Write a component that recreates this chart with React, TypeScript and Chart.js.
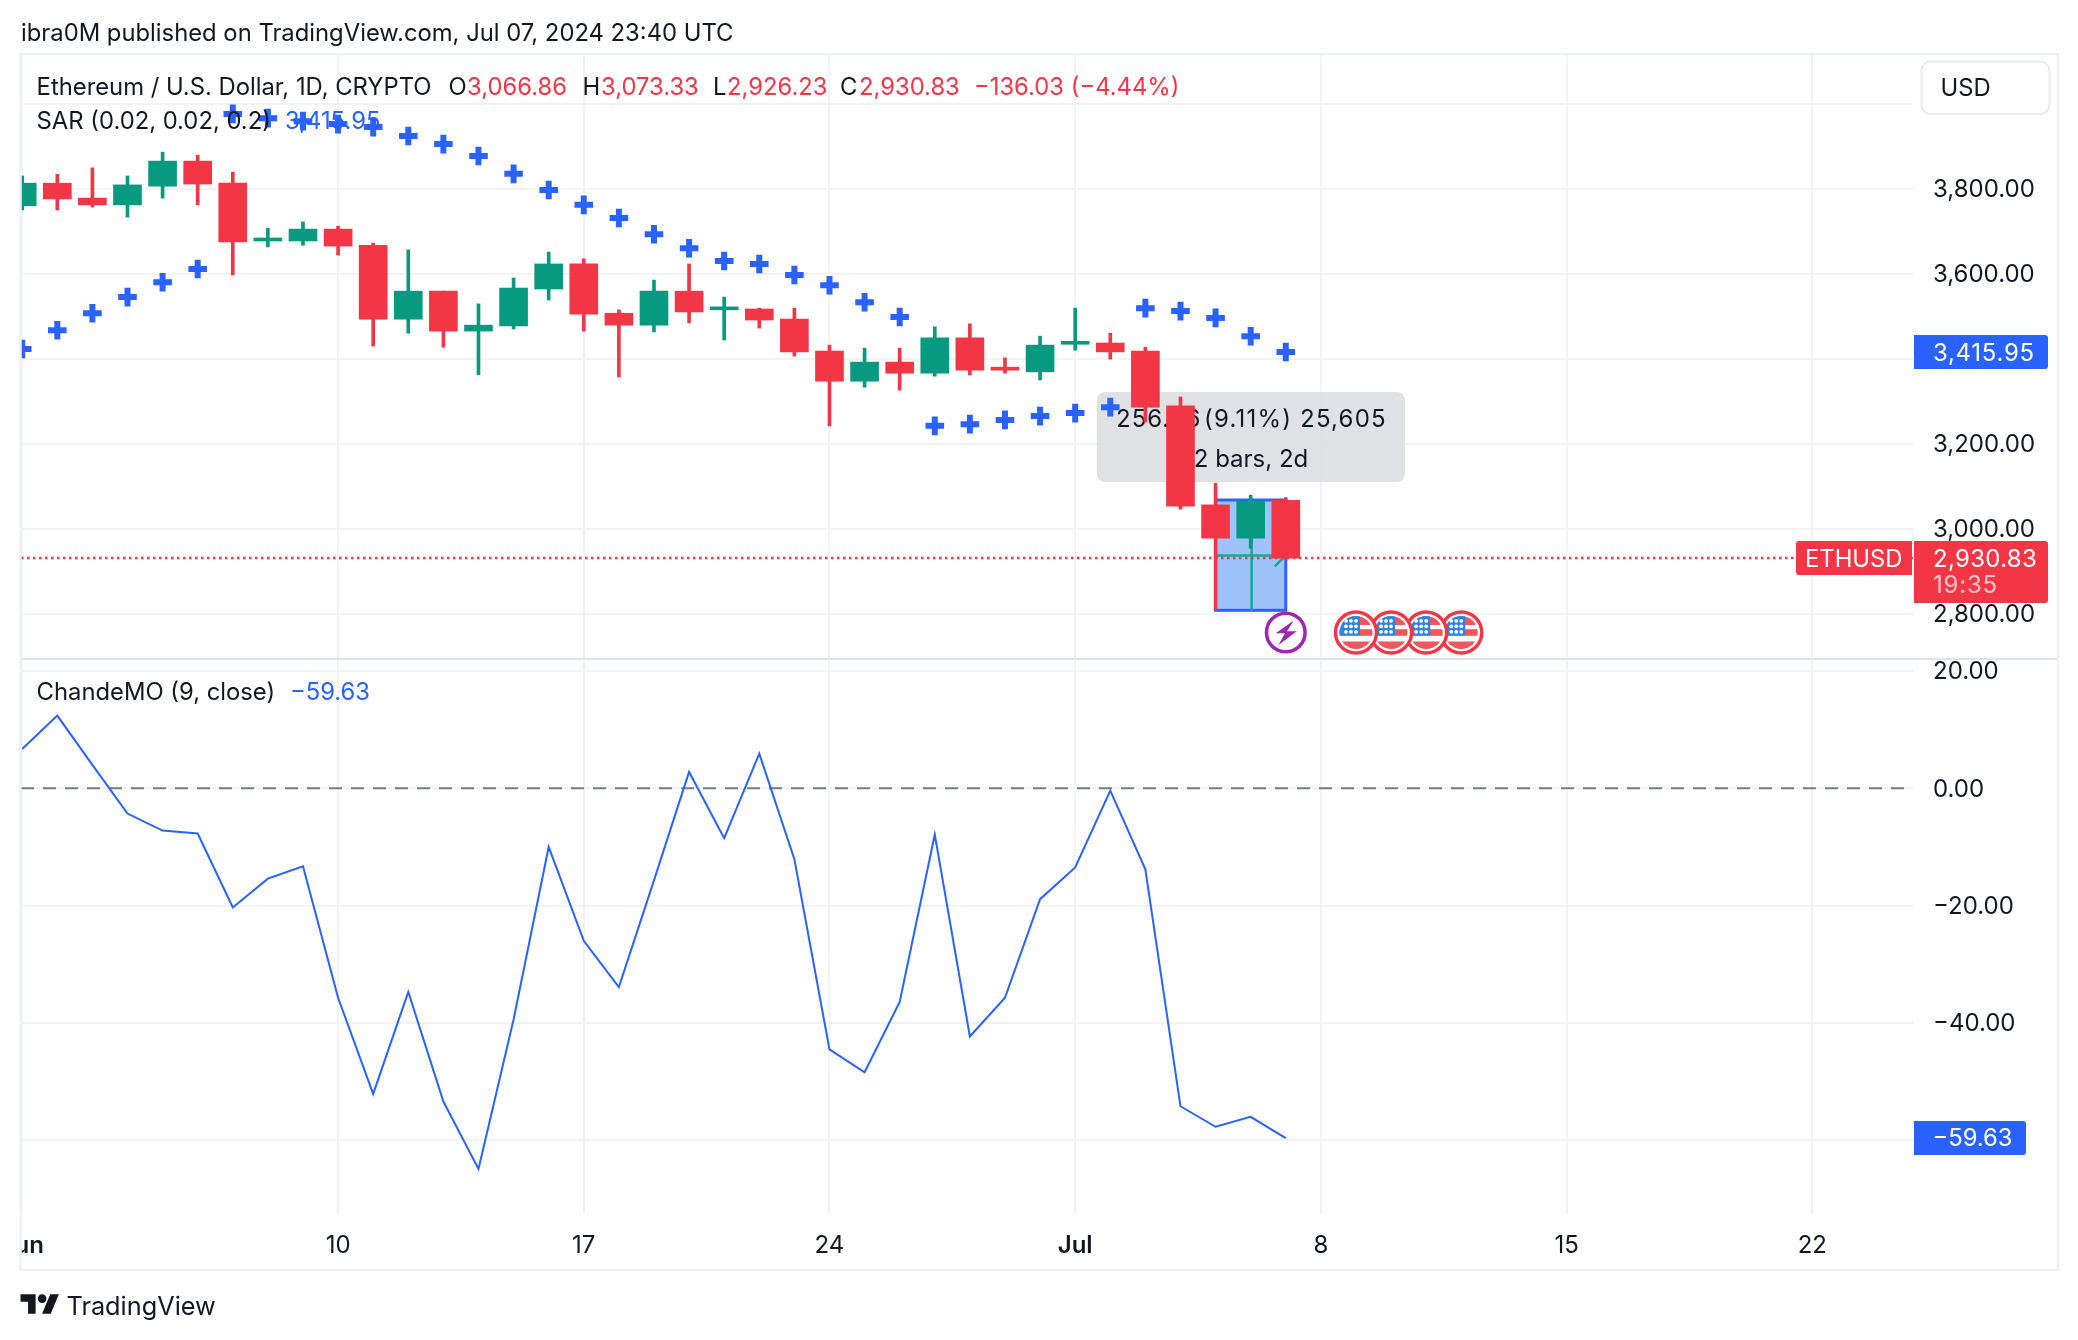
import React, { useEffect, useRef } from "react";
import { Chart, registerables } from "chart.js";

Chart.register(...registerables);

const FONT = "Inter";
const RED = "#F23645";
const GREEN = "#089981";
const BLUE = "#2962FF";
const INK = "#131722";
const GRID = "#F2F3F5";
const FRAME = "#F0F1F5";

// Jun 1 .. Jul 7 2024 daily bars
const opens = [3760, 3813, 3778, 3762, 3806, 3865, 3813, 3677, 3677, 3705, 3667, 3493, 3559, 3465, 3477, 3564, 3623, 3507, 3479, 3559, 3515, 3517, 3493, 3418, 3347, 3392, 3366, 3449, 3378, 3369, 3434, 3437, 3418, 3289, 3056, 2978, 3066.86];
const highs = [3830, 3834, 3849, 3830, 3886, 3879, 3839, 3707, 3722, 3712, 3672, 3656, 3559, 3529, 3590, 3651, 3635, 3515, 3585, 3623, 3545, 3519, 3519, 3432, 3425, 3425, 3475, 3482, 3402, 3453, 3519, 3460, 3427, 3310, 3107, 3079, 3073.33];
const lows = [3750, 3750, 3757, 3733, 3778, 3762, 3597, 3663, 3667, 3644, 3430, 3460, 3427, 3362, 3470, 3538, 3465, 3357, 3463, 3484, 3444, 3472, 3406, 3242, 3333, 3326, 3359, 3362, 3366, 3350, 3420, 3399, 3251, 3046, 2809, 2954, 2926.23];
const closes = [3813, 3776, 3762, 3809, 3865, 3811, 3675, 3682, 3705, 3665, 3493, 3559, 3465, 3479, 3566, 3623, 3505, 3479, 3559, 3510, 3519, 3491, 3416, 3347, 3392, 3366, 3449, 3373, 3373, 3432, 3439, 3416, 3286, 3053, 2978, 3065, 2930.83];
const sarValues = [3423, 3467, 3507, 3545, 3580, 3611, 3976, 3966, 3959, 3952, 3945, 3924, 3905, 3877, 3835, 3797, 3762, 3731, 3693, 3660, 3630, 3623, 3597, 3573, 3533, 3498, 3242, 3246, 3256, 3265, 3272, 3286, 3519, 3512, 3496, 3453, 3415.95];
const chandeValues = [6.7, 12.4, 4.0, -4.3, -7.2, -7.7, -20.3, -15.4, -13.3, -35.7, -52.1, -34.7, -53.4, -64.9, -39.4, -10.0, -26.0, -33.9, -15.7, 2.8, -8.5, 5.9, -12.1, -44.5, -48.4, -36.4, -7.9, -42.3, -35.7, -18.9, -13.5, -0.4, -13.8, -54.2, -57.7, -56.0, -59.63];

const timeTickDays = [0, 9, 16, 23, 30, 37, 44, 51];
const timeTickLabels = ["Jun", "10", "17", "24", "Jul", "8", "15", "22"];
const boldTimeLabels = ["Jun", "Jul"];
const priceTicks = [4000, 3800, 3600, 3400, 3200, 3000, 2800];
const hiddenPriceTicks = [4000, 3400];
const chandeTicks = [20, 0, -20, -40, -60];
const hiddenChandeTicks = [-60];

const lastPrice = 2930.83;
const lastSar = 3415.95;
const lastChande = -59.63;
const rangeStartDay = 34;
const rangeEndDay = 36;
const rangeTop = 3067.5;
const rangeBottom = 2808;
const rangeMidPrice = 2937;
const splashDay = 36;
const flagDays = [38, 39, 40, 41];
const X_MIN = -0.034;
const X_MAX = 53.87;

const fmt = (v: number) =>
  (v < 0 ? "\u2212" : "") +
  Math.abs(v).toLocaleString("en-US", { minimumFractionDigits: 2, maximumFractionDigits: 2 });

function txt(ctx: any, s: string, x: number, y: number, color = INK, size = 23.8, align = "left", spacing = 0) {
  ctx.font = `400 ${size}px ${FONT}`;
  ctx.letterSpacing = `${spacing}px`;
  ctx.fillStyle = color;
  ctx.textAlign = align;
  ctx.textBaseline = "middle";
  ctx.fillText(s, x, y);
  ctx.letterSpacing = "0px";
}

function rr(ctx: any, x: number, y: number, w: number, h: number, r: any, fill: string, stroke?: string) {
  ctx.beginPath();
  ctx.roundRect(x, y, w, h, r);
  if (fill) {
    ctx.fillStyle = fill;
    ctx.fill();
  }
  if (stroke) {
    ctx.strokeStyle = stroke;
    ctx.lineWidth = 2;
    ctx.stroke();
  }
}

function drawFlag(ctx: any, cx: number, cy: number) {
  ctx.save();
  ctx.beginPath();
  ctx.arc(cx, cy, 20.5, 0, Math.PI * 2);
  ctx.fillStyle = "#fff";
  ctx.fill();
  ctx.strokeStyle = RED;
  ctx.lineWidth = 3.4;
  ctx.stroke();
  ctx.beginPath();
  ctx.arc(cx, cy, 16.5, 0, Math.PI * 2);
  ctx.clip();
  ctx.fillStyle = "#F0565B";
  ctx.fillRect(cx - 17, cy - 16, 34, 8.5);
  ctx.fillRect(cx - 17, cy - 3.3, 34, 6.6);
  ctx.fillRect(cx - 17, cy + 9, 34, 8);
  ctx.fillStyle = "#2D84E8";
  ctx.fillRect(cx - 17, cy - 17, 21, 20);
  ctx.fillStyle = "#fff";
  for (let r = 0; r < 3; r++) {
    for (let c = 0; c < 3; c++) {
      ctx.beginPath();
      ctx.arc(cx - 10 + c * 5, cy - 11.7 + r * 5.5, 1.9, 0, Math.PI * 2);
      ctx.fill();
    }
  }
  ctx.restore();
}

function drawSplash(ctx: any, cx: number, cy: number) {
  ctx.beginPath();
  ctx.arc(cx, cy, 19.3, 0, Math.PI * 2);
  ctx.fillStyle = "#fff";
  ctx.fill();
  ctx.strokeStyle = "#9C27B0";
  ctx.lineWidth = 3.5;
  ctx.stroke();
  const pts = [[8, -12], [-10, 0.8], [-0.8, 0.8], [-7.5, 12.8], [11, -1.2], [1.2, -1.2]];
  ctx.beginPath();
  pts.forEach(([a, b], i) => (i ? ctx.lineTo(cx + a, cy + b) : ctx.moveTo(cx + a, cy + b)));
  ctx.closePath();
  ctx.fillStyle = "#9C27B0";
  ctx.fill();
}

const overlay = {
  id: "overlay",
  beforeDraw(chart: any) {
    const { ctx } = chart;
    ctx.save();
    ctx.fillStyle = "#fff";
    ctx.fillRect(0, 0, chart.width, chart.height);
    ctx.restore();
  },
  beforeDatasetsDraw(chart: any) {
    const { ctx, scales } = chart;
    const { x, yP } = scales;
    ctx.save();
    // measure label
    rr(ctx, 1097, 392, 308, 90, 8, "rgba(218,220,224,0.85)");
    txt(ctx, "256.56", 1116, 419.5, INK, 24, "left", 1);
    txt(ctx, "(9.11%) 25,605", 1204, 419.5, INK, 24, "left", 1.2);
    txt(ctx, "2 bars, 2d", 1251, 459.5, INK, 24, "center");
    // date & price range
    const l = x.getPixelForValue(rangeStartDay);
    const r = x.getPixelForValue(rangeEndDay);
    const t = yP.getPixelForValue(rangeTop);
    const b = yP.getPixelForValue(rangeBottom);
    ctx.fillStyle = "#9DC3FA";
    ctx.fillRect(l, t, r - l, b - t);
    ctx.strokeStyle = BLUE;
    ctx.lineWidth = 3;
    ctx.strokeRect(l, t, r - l, b - t);
    ctx.strokeStyle = "#17A78F";
    ctx.lineWidth = 2.5;
    const m = yP.getPixelForValue(rangeMidPrice);
    ctx.beginPath();
    ctx.moveTo(l, m);
    ctx.lineTo(r, m);
    ctx.moveTo((l + r) / 2 + 1, t + 38);
    ctx.lineTo((l + r) / 2 + 1, b);
    ctx.moveTo(r - 11, m + 11);
    ctx.lineTo(r, m);
    ctx.stroke();
    ctx.restore();
  },
  afterDraw(chart: any) {
    const { ctx, scales } = chart;
    const { x, yP, yC } = scales;
    ctx.save();
    // hide the clipped part of the first time label
    ctx.fillStyle = "#fff";
    ctx.fillRect(0, 1216, 21, 52);

    // pane separator + frame
    ctx.fillStyle = "#E0E3EB";
    ctx.fillRect(21, 658, 2037, 2);
    ctx.strokeStyle = FRAME;
    ctx.lineWidth = 2.5;
    ctx.strokeRect(20.5, 54, 2037.5, 1216);

    // events
    const paneY = 632.5;
    drawSplash(ctx, x.getPixelForValue(splashDay), paneY);
    [...flagDays].reverse().forEach((d) => drawFlag(ctx, x.getPixelForValue(d), paneY));

    // header and legends
    txt(ctx, "ibra0M published on TradingView.com, Jul 07, 2024 23:40 UTC", 21, 33.5);
    const hy = 87.5;
    txt(ctx, "Ethereum / U.S. Dollar, 1D, CRYPTO", 36.6, hy);
    txt(ctx, "O", 448.5, hy);
    txt(ctx, fmt(opens[36]), 467, hy, RED);
    txt(ctx, "H", 582.5, hy);
    txt(ctx, fmt(highs[36]), 601, hy, RED);
    txt(ctx, "L", 713, hy);
    txt(ctx, fmt(lows[36]), 727, hy, RED);
    txt(ctx, "C", 840, hy);
    txt(ctx, fmt(closes[36]), 859, hy, RED);
    txt(ctx, "\u2212136.03 (\u22124.44%)", 974, hy, RED);
    txt(ctx, "SAR (0.02, 0.02, 0.2)", 36.6, 121.5);
    txt(ctx, fmt(lastSar), 285, 121.5, BLUE);
    txt(ctx, "ChandeMO (9, close)", 36.6, 692.5);
    txt(ctx, fmt(lastChande), 290, 692.5, BLUE);

    // currency box
    rr(ctx, 1921.5, 61.5, 128, 52.5, 9, "#fff", "#E9EAEE");
    txt(ctx, "USD", 1940.5, 89);

    // price badges
    const ySar = yP.getPixelForValue(lastSar);
    rr(ctx, 1914, ySar - 17, 134, 34, [0, 3, 3, 0], BLUE);
    txt(ctx, fmt(lastSar), 1933, ySar + 1.5, "#fff", 24, "left", 0.7);

    const yLast = yP.getPixelForValue(lastPrice);
    rr(ctx, 1796, yLast - 17, 116, 34, [3, 0, 0, 3], RED);
    txt(ctx, "ETHUSD", 1805, yLast + 2, "#fff");
    rr(ctx, 1914, yLast - 17, 134, 62, [0, 3, 3, 0], RED);
    txt(ctx, fmt(lastPrice), 1933, yLast + 1.5, "#fff", 24, "left", 0.3);
    txt(ctx, "19:35", 1933, yLast + 28, "rgba(255,255,255,0.7)", 24, "left", 0.8);

    const yCh = yC.getPixelForValue(lastChande);
    rr(ctx, 1914, yCh - 17, 112, 34, [0, 3, 3, 0], BLUE);
    txt(ctx, fmt(lastChande), 1932.5, yCh + 1, "#fff");

    // brand
    ctx.save();
    ctx.translate(20.5, 1294.3 - 4 * 1.08);
    ctx.scale(1.08, 1.08);
    ctx.fillStyle = INK;
    ctx.fill(new Path2D("M14 22H7V11H0V4h14v18zM28 22h-8l7.5-18h8L28 22z"));
    ctx.beginPath();
    ctx.arc(20, 8, 4, 0, Math.PI * 2);
    ctx.fill();
    ctx.restore();
    txt(ctx, "TradingView", 66.5, 1307.5, INK, 25.3);
    ctx.restore();
  },
};

export default function App() {
  const ref = useRef<HTMLCanvasElement>(null);
  useEffect(() => {
    const days = opens.map((_, i) => i);
    const colours = days.map((i) => (closes[i] >= opens[i] ? GREEN : RED));
    const chart = new Chart(ref.current as any, {
      type: "bar",
      plugins: [overlay],
      data: {
        datasets: [
          {
            type: "line",
            label: "ETHUSD last",
            data: [
              { x: X_MIN, y: lastPrice },
              { x: X_MAX, y: lastPrice },
            ],
            yAxisID: "yP",
            borderColor: RED,
            borderWidth: 2.5,
            borderDash: [2.5, 3.5],
            pointRadius: 0,
            order: 6,
          },
          {
            type: "bar",
            label: "Wicks",
            data: days.map((i) => ({ x: i, y: [lows[i], highs[i]] })),
            yAxisID: "yP",
            backgroundColor: colours,
            barThickness: 3,
            grouped: false,
            order: 5,
          },
          {
            type: "bar",
            label: "Bodies",
            data: days.map((i) => ({ x: i, y: [opens[i], closes[i]] })),
            yAxisID: "yP",
            backgroundColor: colours,
            barThickness: 28,
            minBarLength: 3,
            grouped: false,
            order: 4,
          },
          {
            type: "line",
            label: "SAR",
            data: days.map((i) => ({ x: i, y: sarValues[i] })),
            yAxisID: "yP",
            showLine: false,
            pointStyle: "cross",
            pointRadius: 9.3,
            pointBorderWidth: 6,
            pointBorderColor: BLUE,
            order: 3,
          },
          {
            type: "line",
            label: "Zero",
            data: [
              { x: X_MIN, y: 0 },
              { x: X_MAX, y: 0 },
            ],
            yAxisID: "yC",
            borderColor: "#787B86",
            borderWidth: 2,
            borderDash: [13, 9],
            pointRadius: 0,
            order: 2,
          },
          {
            type: "line",
            label: "ChandeMO",
            data: days.map((i) => ({ x: i, y: chandeValues[i] })),
            yAxisID: "yC",
            borderColor: BLUE,
            borderWidth: 2,
            tension: 0,
            pointRadius: 0,
            order: 1,
          },
        ],
      } as any,
      options: {
        responsive: false,
        animation: false,
        devicePixelRatio: 1,
        events: [],
        layout: { autoPadding: false, padding: { top: 54, left: 21, right: 20, bottom: 70 } },
        plugins: { legend: { display: false }, tooltip: { enabled: false } },
        scales: {
          x: {
            type: "linear",
            position: "bottom",
            offset: false,
            min: X_MIN,
            max: X_MAX,
            grid: { color: GRID, lineWidth: 2, drawTicks: false, offset: false },
            border: { display: false },
            afterBuildTicks: (s: any) => {
              s.ticks = timeTickDays.map((value) => ({ value }));
            },
            afterFit: (s: any) => {
              s.height = 57;
              s.paddingLeft = 0;
              s.paddingRight = 0;
            },
            ticks: {
              autoSkip: false,
              maxRotation: 0,
              padding: 18,
              color: INK,
              font: (c: any) => ({
                family: FONT,
                size: 24,
                weight: boldTimeLabels.includes(timeTickLabels[c.index]) ? "600" : "400",
              }),
              callback: (v: any) => timeTickLabels[timeTickDays.indexOf(v)] ?? "",
            },
          },
          yP: {
            type: "linear",
            position: "right",
            stack: "panes",
            stackWeight: 605,
            min: 2693.4,
            max: 4117,
            grid: { color: GRID, lineWidth: 2, drawTicks: false },
            border: { display: false },
            afterBuildTicks: (s: any) => {
              s.ticks = priceTicks.map((value) => ({ value }));
            },
            afterFit: (s: any) => {
              s.width = 145;
            },
            ticks: {
              autoSkip: false,
              padding: 20,
              labelOffset: 1,
              color: INK,
              font: { family: FONT, size: 24 },
              callback: (v: any) => (hiddenPriceTicks.includes(v) ? "" : fmt(v)),
            },
          },
          yC: {
            type: "linear",
            position: "right",
            stack: "panes",
            stackWeight: 554,
            min: -72.4,
            max: 22.05,
            grid: { color: GRID, lineWidth: 2, drawTicks: false },
            border: { display: false },
            afterBuildTicks: (s: any) => {
              s.ticks = chandeTicks.map((value) => ({ value }));
            },
            afterFit: (s: any) => {
              s.width = 145;
            },
            ticks: {
              autoSkip: false,
              padding: 20,
              labelOffset: 1,
              color: INK,
              font: { family: FONT, size: 24 },
              callback: (v: any) => (hiddenChandeTicks.includes(v) ? "" : fmt(v)),
            },
          },
        },
      } as any,
    });
    return () => chart.destroy();
  }, []);
  return (
    <div style={{ position: "absolute", left: 0, top: 0, width: 2078, height: 1340, background: "#fff" }}>
      <canvas ref={ref} width={2078} height={1340} style={{ display: "block" }} />
    </div>
  );
}
